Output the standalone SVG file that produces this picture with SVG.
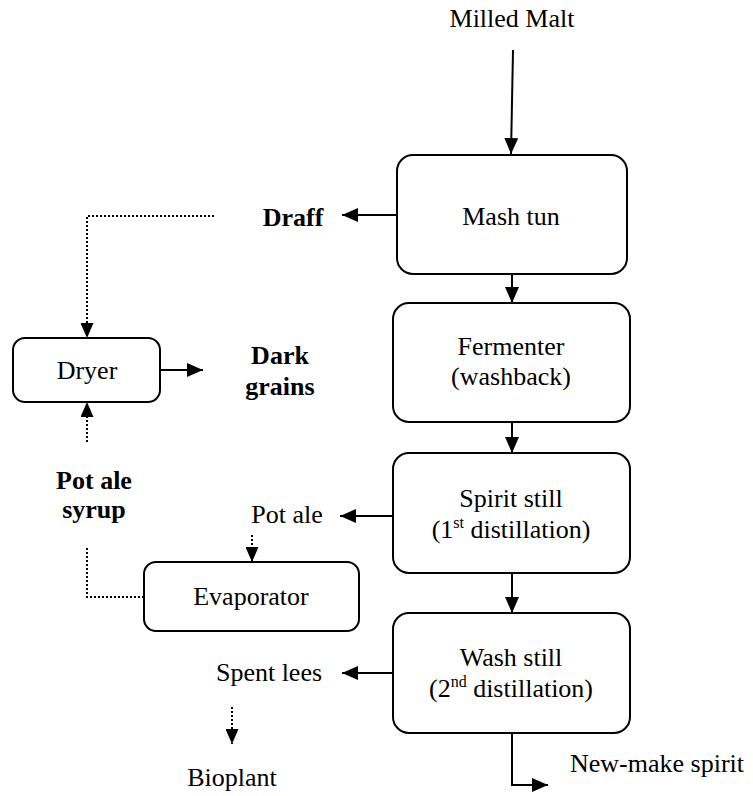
<svg xmlns="http://www.w3.org/2000/svg" width="753" height="796" viewBox="0 0 753 796">
<defs>
<marker id="ah" markerUnits="userSpaceOnUse" markerWidth="16" markerHeight="14" refX="16" refY="7" orient="auto">
<path d="M0,0 L16,7 L0,14 z" fill="#000"/>
</marker>
<marker id="ahs" markerUnits="userSpaceOnUse" markerWidth="15" markerHeight="13" refX="15" refY="6.5" orient="auto">
<path d="M0,0 L15,6.5 L0,13 z" fill="#000"/>
</marker>
</defs>
<style>
.t{font-family:'Liberation Serif','Times New Roman','DejaVu Serif',serif;font-size:26px;fill:#000}
.b{font-weight:bold}
.m{text-anchor:middle}
.box{fill:#fff;stroke:#000;stroke-width:2}
.ln{fill:none;stroke:#000;stroke-width:2;marker-end:url(#ah)}
.dt{fill:none;stroke:#000;stroke-width:2;stroke-dasharray:2 2}
.dta{fill:none;stroke:#000;stroke-width:2;stroke-dasharray:2 2;marker-end:url(#ahs)}
.sup{font-size:16px}
</style>
<rect width="753" height="796" fill="#fff"/>
<g id="connectors">
<path class="ln" d="M513,50 L511,154"/>
<path class="ln" d="M397,215 L342,215"/>
<path class="ln" d="M512,274 L512,303"/>
<path class="ln" d="M512,422 L512,453"/>
<path class="ln" d="M512,573 L512,613"/>
<path class="ln" d="M393,516 L340,516"/>
<path class="ln" d="M393,673 L342,673"/>
<path class="ln" d="M512,733 L512,785 L548,785"/>
<path class="ln" d="M160,370 L203,370"/>
<path class="dta" d="M214,216 L87,216 L87,338"/>
<path class="dta" d="M87,442 L87,402"/>
<path class="dt" d="M87,548 L87,597 L144,597"/>
<path class="dta" d="M252,535 L252,562"/>
<path class="dta" d="M232,707 L232,744"/>
</g>
<g font-family="Liberation Serif, Times New Roman, DejaVu Serif, serif" font-size="26">
<g id="milled-malt"><text class="t m" x="512" y="27">Milled Malt</text></g>
<g id="mash-tun">
<rect class="box" x="397" y="155" width="230" height="119" rx="16"/>
<text class="t m" x="511" y="225">Mash tun</text>
</g>
<g id="fermenter">
<rect class="box" x="393" y="303" width="237" height="119" rx="16"/>
<text class="t m" x="511" y="355">Fermenter</text>
<text class="t m" x="511" y="385">(washback)</text>
</g>
<g id="spirit-still">
<rect class="box" x="393" y="453" width="237" height="120" rx="16"/>
<text class="t m" x="511" y="507">Spirit still</text>
<text class="t m" x="511" y="538">(1<tspan class="sup" dy="-10">st</tspan><tspan dy="10"> distillation)</tspan></text>
</g>
<g id="wash-still">
<rect class="box" x="393" y="613" width="237" height="120" rx="16"/>
<text class="t m" x="511" y="666">Wash still</text>
<text class="t m" x="511" y="697">(2<tspan class="sup" dy="-10">nd</tspan><tspan dy="10"> distillation)</tspan></text>
</g>
<g id="draff"><text class="t b m" x="293" y="226">Draff</text></g>
<g id="dryer">
<rect class="box" x="13" y="338" width="147" height="64" rx="12"/>
<text class="t m" x="87" y="379">Dryer</text>
</g>
<g id="dark-grains">
<text class="t b m" x="280" y="364">Dark</text>
<text class="t b m" x="280" y="395">grains</text>
</g>
<g id="pot-ale-syrup">
<text class="t b m" x="94" y="489">Pot ale</text>
<text class="t b m" x="94" y="518">syrup</text>
</g>
<g id="pot-ale"><text class="t m" x="287" y="523">Pot ale</text></g>
<g id="evaporator">
<rect class="box" x="144" y="562" width="215" height="69" rx="12"/>
<text class="t m" x="251" y="605">Evaporator</text>
</g>
<g id="spent-lees"><text class="t m" x="269" y="681">Spent lees</text></g>
<g id="bioplant"><text class="t m" x="232" y="786">Bioplant</text></g>
<g id="new-make-spirit"><text class="t" x="570" y="772">New-make spirit</text></g>
</g>
</svg>
